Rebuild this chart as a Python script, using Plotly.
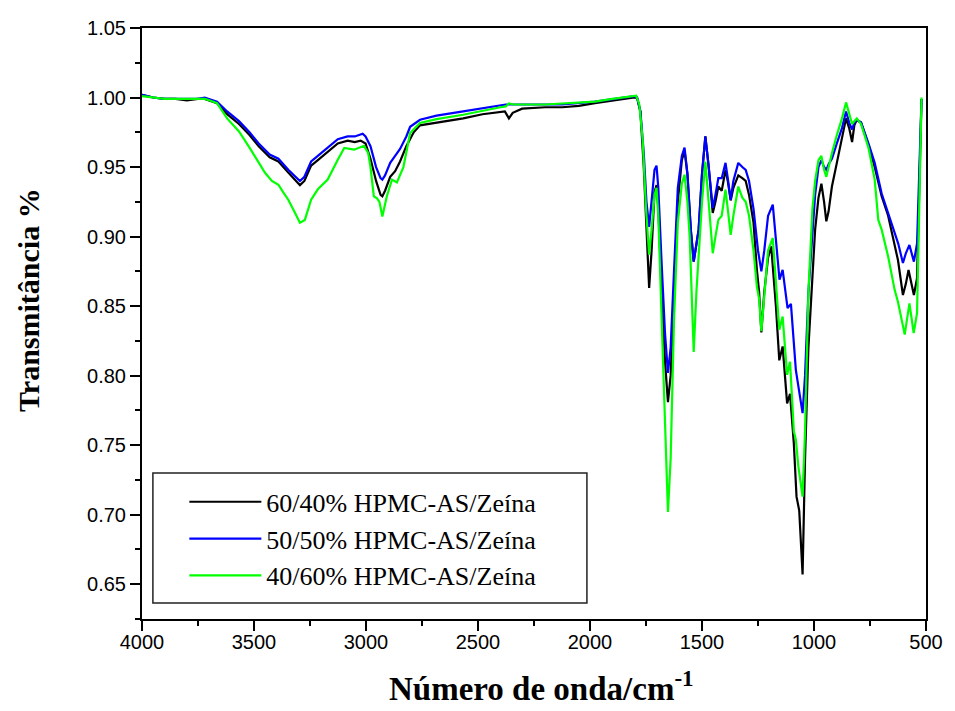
import plotly.graph_objects as go

# ---------------- data ----------------
names = ["60/40% HPMC-AS/Zeína", "50/50% HPMC-AS/Zeína", "40/60% HPMC-AS/Zeína"]
colors = ["#000000", "#0000FF", "#00FF00"]

wn_6040 = [4000, 3950, 3900, 3850, 3800, 3750, 3720, 3700, 3665, 3620, 3567, 3520, 3479, 3430,
           3391, 3347, 3310, 3295, 3275, 3245, 3215, 3185, 3150, 3126, 3082, 3050, 3024, 3002,
           2980, 2955, 2935, 2927, 2915, 2892, 2870, 2848, 2820, 2787, 2759, 2720, 2685, 2600,
           2566, 2480, 2400, 2380, 2362, 2345, 2303, 2200, 2124, 2050, 1978, 1900, 1802, 1790,
           1775, 1760, 1748, 1736, 1725, 1712, 1703, 1695, 1680, 1665, 1652, 1640, 1625, 1608,
           1590, 1578, 1565, 1550, 1537, 1525, 1515, 1500, 1485, 1470, 1452, 1440, 1427, 1412,
           1395, 1385, 1372, 1360, 1338, 1320, 1305, 1290, 1270, 1255, 1245, 1235, 1222, 1205,
           1191, 1170, 1155, 1140, 1120, 1107, 1090, 1078, 1066, 1051, 1040, 1025, 1007, 995,
           980, 967, 955, 945, 935, 920, 898, 875, 857, 843, 830, 820, 809, 790, 757, 729, 698,
           669, 640, 625, 603, 590, 578, 565, 554, 540, 530, 520]
tr_6040 = [1.002, 1.000, 0.999, 0.999, 0.998, 0.999, 0.999, 0.998, 0.996, 0.988, 0.981, 0.973,
           0.965, 0.957, 0.954, 0.946, 0.940, 0.937, 0.940, 0.951, 0.955, 0.959, 0.964, 0.967,
           0.969, 0.968, 0.969, 0.967, 0.956, 0.940, 0.930, 0.929, 0.933, 0.943, 0.947, 0.954,
           0.965, 0.975, 0.980, 0.981, 0.982, 0.984, 0.985, 0.988, 0.990, 0.990, 0.985, 0.989,
           0.992, 0.993, 0.993, 0.994, 0.996, 0.998, 1.000, 1.000, 0.990, 0.950, 0.900, 0.863,
           0.890, 0.932, 0.937, 0.920, 0.860, 0.810, 0.781, 0.800, 0.860, 0.925, 0.955, 0.962,
           0.945, 0.905, 0.882, 0.895, 0.905, 0.945, 0.972, 0.950, 0.917, 0.925, 0.936, 0.933,
           0.948, 0.940, 0.926, 0.935, 0.944, 0.942, 0.940, 0.930, 0.910, 0.876, 0.860, 0.831,
           0.860, 0.885, 0.893, 0.850, 0.811, 0.821, 0.780, 0.787, 0.751, 0.713, 0.703, 0.657,
           0.740, 0.820, 0.876, 0.905, 0.928, 0.938, 0.925, 0.911, 0.918, 0.936, 0.953, 0.970,
           0.985, 0.978, 0.968, 0.980, 0.984, 0.982, 0.966, 0.950, 0.929, 0.915, 0.895, 0.883,
           0.858, 0.866, 0.876, 0.866, 0.858, 0.870, 0.930, 0.999]

wn_5050 = [4000, 3950, 3900, 3800, 3750, 3720, 3700, 3665, 3620, 3567, 3520, 3479, 3430, 3391,
           3347, 3310, 3295, 3275, 3245, 3215, 3185, 3150, 3126, 3082, 3050, 3015, 3002, 2980,
           2955, 2935, 2927, 2915, 2892, 2870, 2848, 2820, 2803, 2759, 2685, 2566, 2450, 2376,
           2300, 2124, 1978, 1900, 1802, 1790, 1775, 1760, 1748, 1736, 1725, 1712, 1703, 1695,
           1680, 1665, 1652, 1640, 1625, 1608, 1590, 1578, 1565, 1550, 1537, 1525, 1515, 1500,
           1485, 1470, 1452, 1440, 1427, 1412, 1395, 1385, 1372, 1360, 1338, 1320, 1305, 1290,
           1270, 1250, 1235, 1222, 1205, 1184, 1170, 1154, 1140, 1118, 1103, 1081, 1051, 1040,
           1025, 1007, 995, 980, 967, 955, 945, 935, 920, 898, 875, 857, 843, 830, 820, 809, 790,
           757, 729, 698, 669, 640, 624, 603, 590, 574, 565, 554, 540, 530, 520]
tr_5050 = [1.002, 1.000, 0.999, 0.999, 0.999, 1.000, 0.999, 0.997, 0.990, 0.983, 0.975, 0.967,
           0.959, 0.956, 0.948, 0.942, 0.940, 0.943, 0.954, 0.958, 0.962, 0.967, 0.970, 0.972,
           0.972, 0.974, 0.972, 0.965, 0.950, 0.942, 0.941, 0.944, 0.953, 0.958, 0.963, 0.972,
           0.979, 0.984, 0.987, 0.990, 0.993, 0.995, 0.995, 0.995, 0.997, 0.999, 1.001, 1.000,
           0.990, 0.960, 0.925, 0.907, 0.925, 0.948, 0.951, 0.935, 0.880, 0.830, 0.802, 0.820,
           0.875, 0.935, 0.958, 0.964, 0.945, 0.905, 0.882, 0.893, 0.905, 0.945, 0.972, 0.950,
           0.9205, 0.930, 0.942, 0.942, 0.953, 0.942, 0.9265, 0.940, 0.953, 0.950, 0.948, 0.940,
           0.920, 0.890, 0.875, 0.890, 0.915, 0.923, 0.900, 0.869, 0.876, 0.8486, 0.8516, 0.804,
           0.773, 0.800, 0.860, 0.905, 0.930, 0.950, 0.955, 0.950, 0.948, 0.952, 0.956, 0.967,
           0.978, 0.990, 0.982, 0.977, 0.982, 0.984, 0.982, 0.967, 0.953, 0.931, 0.917, 0.902,
           0.895, 0.881, 0.888, 0.894, 0.888, 0.882, 0.895, 0.940, 0.999]

wn_4060 = [4000, 3950, 3900, 3800, 3750, 3720, 3700, 3665, 3620, 3567, 3520, 3479, 3450, 3420,
           3391, 3370, 3347, 3320, 3295, 3273, 3245, 3215, 3171, 3126, 3097, 3053, 3009, 2990,
           2980, 2965, 2951, 2940, 2927, 2907, 2884, 2862, 2833, 2803, 2787, 2759, 2685, 2566,
           2400, 2376, 2362, 2340, 2200, 1978, 1900, 1802, 1794, 1780, 1765, 1750, 1736, 1725,
           1712, 1703, 1695, 1680, 1665, 1652, 1640, 1625, 1608, 1590, 1578, 1565, 1555, 1545,
           1537, 1525, 1515, 1500, 1485, 1470, 1452, 1440, 1427, 1412, 1395, 1385, 1372, 1360,
           1338, 1320, 1305, 1290, 1270, 1255, 1245, 1235, 1222, 1205, 1184, 1170, 1155, 1140,
           1120, 1107, 1090, 1081, 1070, 1051, 1040, 1025, 1007, 995, 980, 967, 955, 945, 935,
           920, 898, 875, 857, 843, 830, 820, 809, 790, 757, 729, 713, 698, 669, 640, 625, 595,
           585, 574, 565, 555, 540, 530, 520]
tr_4060 = [1.001, 1.000, 0.999, 0.999, 0.999, 0.999, 0.998, 0.996, 0.985, 0.9756, 0.964, 0.953,
           0.9457, 0.940, 0.9373, 0.932, 0.9265, 0.918, 0.910, 0.912, 0.9265, 0.934, 0.941,
           0.9553, 0.9637, 0.9625, 0.9653, 0.960, 0.950, 0.929, 0.9275, 0.925, 0.9145, 0.929,
           0.941, 0.939, 0.950, 0.9745, 0.977, 0.9817, 0.9845, 0.9876, 0.993, 0.9936, 0.9958,
           0.995, 0.995, 0.997, 0.999, 1.001, 1.0013, 0.995, 0.970, 0.920, 0.887, 0.905, 0.930,
           0.935, 0.915, 0.840, 0.760, 0.702, 0.740, 0.840, 0.910, 0.938, 0.9445, 0.925, 0.900,
           0.850, 0.817, 0.860, 0.885, 0.925, 0.954, 0.925, 0.888, 0.900, 0.912, 0.915, 0.9337,
           0.920, 0.9013, 0.915, 0.936, 0.928, 0.925, 0.915, 0.890, 0.864, 0.855, 0.832, 0.860,
           0.890, 0.899, 0.870, 0.833, 0.8425, 0.8006, 0.810, 0.760, 0.754, 0.735, 0.713, 0.760,
           0.860, 0.920, 0.940, 0.955, 0.958, 0.948, 0.943, 0.950, 0.960, 0.973, 0.985, 0.9965,
           0.988, 0.981, 0.983, 0.985, 0.981, 0.964, 0.941, 0.912, 0.905, 0.8857, 0.8617, 0.853,
           0.8295, 0.840, 0.852, 0.842, 0.8306, 0.845, 0.920, 1.000]

x_ticks = [4000, 3500, 3000, 2500, 2000, 1500, 1000, 500]
y_ticks = [0.65, 0.70, 0.75, 0.80, 0.85, 0.90, 0.95, 1.00, 1.05]
x_title = "Número de onda/cm<sup>-1</sup>"
y_title = "Transmitância %"

# ---------------- figure ----------------
series = [(wn_6040, tr_6040), (wn_5050, tr_5050), (wn_4060, tr_4060)]
fig = go.Figure()
for (wx, ty), nm, col in zip(series, names, colors):
    fig.add_trace(go.Scatter(x=wx, y=ty, mode="lines", name=nm,
                             line=dict(color=col, width=2.2)))

tick_font = dict(family="Arial, 'Liberation Sans', sans-serif", size=20, color="black")
serif = "'Times New Roman', 'Liberation Serif', serif"

fig.update_layout(
    width=955, height=711,
    margin=dict(l=142, r=20, t=28, b=92),
    paper_bgcolor="white", plot_bgcolor="white",
    showlegend=True,
    legend=dict(x=0.054, y=0.238, xanchor="left", yanchor="top",
                bgcolor="rgba(0,0,0,0)", borderwidth=0, itemwidth=72,
                font=dict(family=serif, size=26, color="black"),
                tracegroupgap=0),
    shapes=[dict(type="rect", xref="paper", yref="paper",
                 x0=0.0139, x1=0.5675, y0=0.0271, y1=0.247,
                 line=dict(color="#222222", width=1.5), fillcolor="rgba(0,0,0,0)")],
    annotations=[
        dict(text=x_title, xref="paper", yref="paper", x=0.51, y=-0.113,
             xanchor="center", yanchor="middle", showarrow=False,
             font=dict(family=serif, size=33, color="black", weight="bold")),
        dict(text=y_title, xref="paper", yref="paper", x=-0.144, y=0.54,
             xanchor="center", yanchor="middle", showarrow=False, textangle=-90,
             font=dict(family=serif, size=30, color="black", weight="bold")),
    ],
)

fig.update_xaxes(
    range=[4000, 500], tickvals=x_ticks, ticktext=[str(v) for v in x_ticks],
    showgrid=False, zeroline=False, showline=True, linecolor="black", linewidth=2,
    mirror=True, ticks="outside", ticklen=10, tickwidth=2, tickcolor="black",
    ticklabelstandoff=-6,
    minor=dict(dtick=250, ticks="outside", ticklen=5, tickwidth=2, tickcolor="black"),
    tickfont=tick_font,
)
fig.update_yaxes(
    range=[0.625, 1.05], tickvals=y_ticks, ticktext=[f"{v:.2f}" for v in y_ticks],
    showgrid=False, zeroline=False, showline=True, linecolor="black", linewidth=2,
    mirror=True, ticks="outside", ticklen=10, tickwidth=2, tickcolor="black",
    minor=dict(dtick=0.025, ticks="outside", ticklen=5, tickwidth=2, tickcolor="black"),
    tickfont=tick_font,
)

fig.write_html("out.html")
